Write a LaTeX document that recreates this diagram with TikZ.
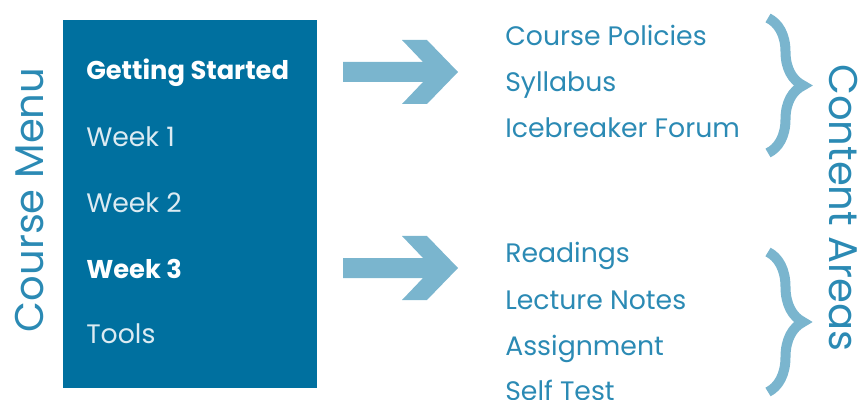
\documentclass[tikz,border=0pt]{standalone}
\usepackage{fontspec}
\setmainfont{Poppins}
\usetikzlibrary{calc,decorations.pathreplacing}

\definecolor{menublue}{HTML}{00709F}
\definecolor{itemblue}{HTML}{2B8AB4}
\definecolor{arrowblue}{HTML}{7AB5CE}
\definecolor{paleitem}{HTML}{DCEBF2}

\begin{document}
\begin{tikzpicture}
[x=0.025cm, y=-0.025cm,
 menu/.style={anchor=base west, inner sep=0pt, text=paleitem, font=\fontsize{19}{23}\selectfont},
 menubold/.style={menu, text=white, font=\fontsize{18.3}{22}\selectfont\bfseries},
 item/.style={anchor=base west, inner sep=0pt, text=itemblue, font=\fontsize{19}{23}\selectfont},
 side/.style={text=itemblue, font=\fontsize{28.5}{33}\selectfont},
 fatarrow/.style={fill=arrowblue, to path={
   ($(\tikztostart)+(0,-10)$) -- ($(\tikztotarget)+(-35,-10)$)
   -- ($(\tikztotarget)+(-56,-32)$) -- ($(\tikztotarget)+(-31,-32)$)
   -- (\tikztotarget)
   -- ($(\tikztotarget)+(-31,32)$) -- ($(\tikztotarget)+(-56,32)$)
   -- ($(\tikztotarget)+(-35,10)$) -- ($(\tikztostart)+(0,10)$) -- cycle}},
 curly/.style={draw=arrowblue, line width=0.25cm, decorate,
   decoration={brace, amplitude=0.875cm}}]
\useasboundingbox (0,0) rectangle (862,400);

% course menu
\node (menubox) at (63,20) [anchor=north west, fill=menublue, inner sep=0pt,
  minimum width=6.35cm, minimum height=9.2cm] {};
\node (coursemenu) at (30,200) [side, rotate=90] {Course Menu};

\node (started) at (86,80) [menubold] {Getting Started};
\node (week1) at (86,147) [menu] {Week 1};
\node (week2) at (86,213) [menu] {Week 2};
\node (week3) at (86,278) [menubold] {Week 3};
\node (tools) at (86,343) [menu] {Tools};

% arrows
\coordinate (a1s) at (343,72);
\coordinate (a1e) at (458,72);
\coordinate (a2s) at (343,268);
\coordinate (a2e) at (458,268);
\path[fatarrow] (a1s) to (a1e);
\path[fatarrow] (a2s) to (a2e);

% content areas
\node (policies) at (505,46) [item] {Course Policies};
\node (syllabus) at (505,92) [item] {Syllabus};
\node (forum) at (505,138) [item] {Icebreaker Forum};

\node (readings) at (505,263) [item] {Readings};
\node (notes) at (505,309) [item] {Lecture Notes};
\node (assign) at (505,355) [item] {Assignment};
\node (selftest) at (505,400) [item] {Self Test};

\coordinate (b1t) at (768,18);
\coordinate (b1b) at (768,153);
\coordinate (b2t) at (768,252);
\coordinate (b2b) at (768,392);
\draw[curly] (b1t) -- (b1b);
\draw[curly] (b2t) -- (b2b);

\node (contentareas) at (843,208) [side, rotate=-90] {Content Areas};

\end{tikzpicture}
\end{document}
